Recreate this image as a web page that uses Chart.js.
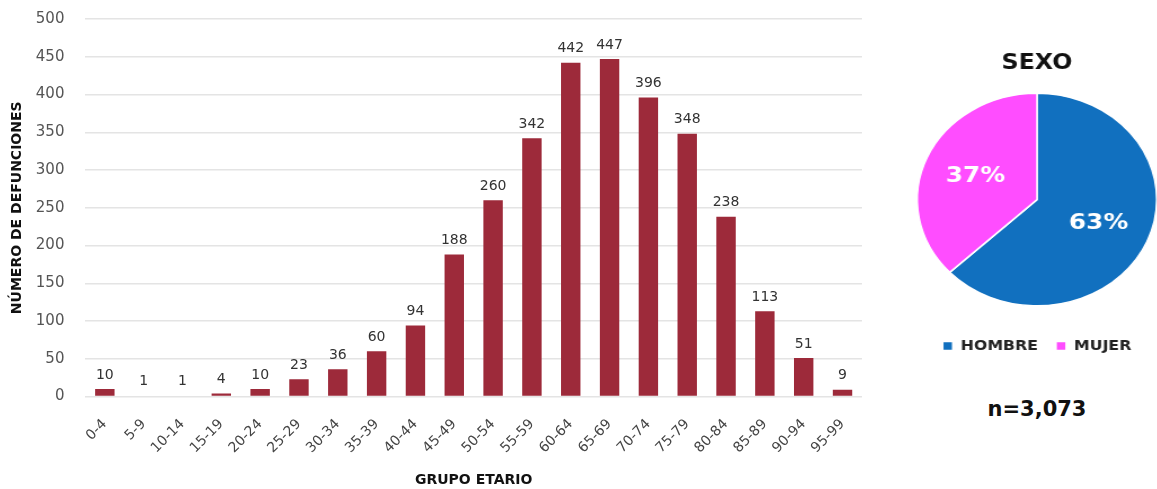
<!DOCTYPE html>
<html>
<head>
<meta charset="utf-8">
<script src="https://cdn.jsdelivr.net/npm/chart.js@4"></script>
<style>
  body { margin: 0; background: #fff; width: 1157px; height: 489px; overflow: hidden; position: relative; font-family: "DejaVu Sans", sans-serif; }
  #barBox { position: absolute; left: 0; top: 0; width: 866px; height: 489px; }
  #pieBox { position: absolute; left: 922px; top: 35px; width: 230px; height: 328px; transform: scaleX(1.127); transform-origin: center; }
  #total { position: absolute; left: 937px; top: 397px; width: 200px; text-align: center; font-weight: bold; font-size: 21px; color: #111; }
</style>
</head>
<body>
<div id="barBox"><canvas id="bars"></canvas></div>
<div id="pieBox"><canvas id="pie"></canvas></div>
<div id="total">n=3,073</div>
<script>
// grupos de edad y defunciones
const grupos = ['0-4', '5-9', '10-14', '15-19', '20-24', '25-29', '30-34', '35-39', '40-44', '45-49',
  '50-54', '55-59', '60-64', '65-69', '70-74', '75-79', '80-84', '85-89', '90-94', '95-99'];
const defunciones = [10, 1, 1, 4, 10, 23, 36, 60, 94, 188, 260, 342, 442, 447, 396, 348, 238, 113, 51, 9];

// sexo
const sexos = ['HOMBRE', 'MUJER'];
const porcentajes = [63, 37];

const fuente = '"DejaVu Sans", sans-serif';

// etiquetas encima de las barras
const etiquetasBarras = {
  id: 'etiquetasBarras',
  afterDatasetsDraw(chart) {
    const ctx = chart.ctx;
    const meta = chart.getDatasetMeta(0);
    ctx.save();
    ctx.font = '14px ' + fuente;
    ctx.fillStyle = '#333';
    ctx.textAlign = 'center';
    ctx.textBaseline = 'bottom';
    meta.data.forEach((bar, i) => {
      ctx.fillText(chart.data.datasets[0].data[i], bar.x, bar.y - 7);
    });
    ctx.restore();
  }
};

// porcentajes dentro del pastel
const etiquetasPastel = {
  id: 'etiquetasPastel',
  afterDatasetsDraw(chart) {
    const ctx = chart.ctx;
    const meta = chart.getDatasetMeta(0);
    ctx.save();
    ctx.font = 'bold 22px ' + fuente;
    ctx.fillStyle = '#fff';
    ctx.textAlign = 'center';
    ctx.textBaseline = 'middle';
    meta.data.forEach((arc, i) => {
      const mid = (arc.startAngle + arc.endAngle) / 2;
      const r = arc.outerRadius * 0.56;
      ctx.fillText(chart.data.datasets[0].data[i] + '%', arc.x + Math.cos(mid) * r, arc.y + Math.sin(mid) * r);
    });
    ctx.restore();
  }
};

new Chart(document.getElementById('bars'), {
  type: 'bar',
  data: {
    labels: grupos,
    datasets: [{
      data: defunciones,
      backgroundColor: '#9d2a3a',
      barPercentage: 0.5,
      categoryPercentage: 1
    }]
  },
  options: {
    responsive: true,
    maintainAspectRatio: false,
    animation: false,
    layout: { padding: { top: 19, right: 4, left: 9, bottom: 0 } },
    plugins: { legend: { display: false }, tooltip: { enabled: false } },
    scales: {
      y: {
        min: 0,
        max: 500,
        ticks: { stepSize: 50, color: '#555', font: { family: fuente, size: 15 }, padding: 2 },
        grid: { color: '#e4e4e4', lineWidth: 1.5, drawTicks: true, tickLength: 19, tickColor: 'rgba(0,0,0,0)' },
        border: { display: false },
        title: { display: true, text: 'NÚMERO DE DEFUNCIONES', color: '#111', font: { family: fuente, size: 14, weight: 'bold' }, padding: { top: 0, bottom: 8 } }
      },
      x: {
        ticks: { color: '#444', font: { family: fuente, size: 14 }, minRotation: 45, maxRotation: 45, padding: 11.5 },
        grid: { display: false },
        border: { display: false },
        title: { display: true, text: 'GRUPO ETARIO', color: '#111', font: { family: fuente, size: 14, weight: 'bold' }, padding: { top: 4, bottom: 0 } }
      }
    }
  },
  plugins: [etiquetasBarras]
});

new Chart(document.getElementById('pie'), {
  type: 'pie',
  data: {
    labels: sexos,
    datasets: [{
      data: porcentajes,
      backgroundColor: ['#1170bf', '#ff4dff'],
      borderColor: '#fff',
      borderWidth: 1.5
    }]
  },
  options: {
    responsive: true,
    maintainAspectRatio: false,
    animation: false,
    layout: { padding: { left: 8, right: 8, top: 0, bottom: 0 } },
    plugins: {
      tooltip: { enabled: false },
      title: { display: true, text: 'SEXO', color: '#111', font: { family: fuente, size: 21, weight: 'bold' }, padding: { top: 16, bottom: 0 } },
      legend: {
        position: 'bottom',
        labels: {
          color: '#222',
          font: { family: fuente, size: 14, weight: 'bold' },
          usePointStyle: true,
          pointStyle: 'rect',
          boxWidth: 9,
          boxHeight: 9,
          padding: 16
        }
      }
    }
  },
  plugins: [etiquetasPastel]
});
</script>
</body>
</html>
